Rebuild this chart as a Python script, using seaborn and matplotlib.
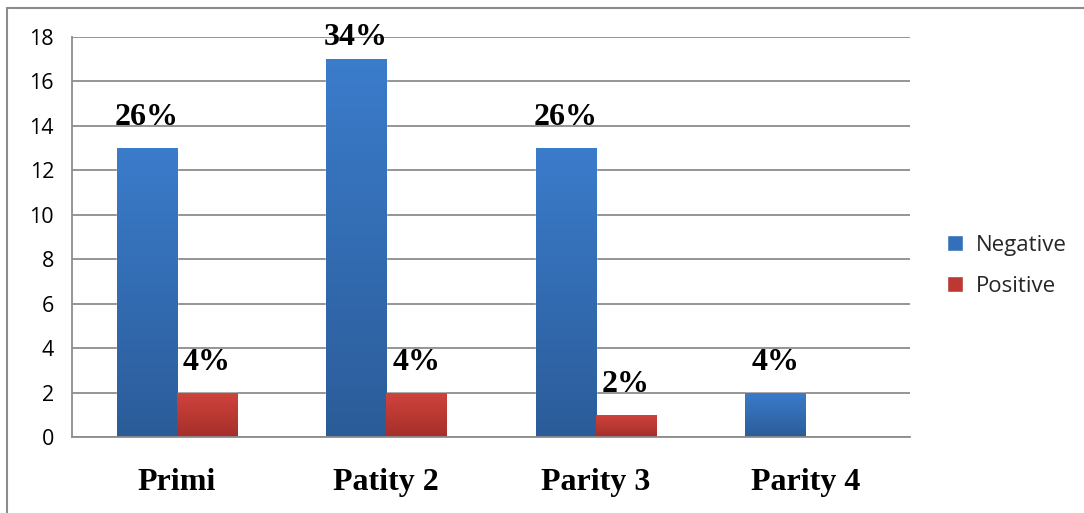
import numpy as np
import pandas as pd
import matplotlib
matplotlib.use("Agg")
import matplotlib.pyplot as plt
from matplotlib.lines import Line2D
from matplotlib.colors import LinearSegmentedColormap
import seaborn as sns

# Data
categories = ["Primi", "Patity 2", "Parity 3", "Parity 4"]
negative = [13, 17, 13, 2]
positive = [2, 2, 1, 0]
neg_labels = ["26%", "34%", "26%", "4%"]
pos_labels = ["4%", "4%", "2%", ""]
series = ["Negative", "Positive"]

df = pd.DataFrame({
    "category": categories * 2,
    "count": negative + positive,
    "result": [series[0]] * len(categories) + [series[1]] * len(categories),
    "label": neg_labels + pos_labels,
})

sns.set_theme(style="white")
plt.rcParams["font.family"] = ["DejaVu Sans"]

fig = plt.figure(figsize=(10.84, 5.13), dpi=100)
ax = fig.add_axes([0.0664, 0.1481, 0.7731, 0.7798])

palette = {"Negative": "#3470BA", "Positive": "#BE3833"}
sns.barplot(data=df, x="category", y="count", hue="result", order=categories,
            hue_order=series, palette=palette, width=0.574, saturation=1,
            ax=ax, legend=True)

ax.set_xlim(-0.5, 3.5)
ax.set_ylim(0, 18)
ax.set_yticks(range(0, 19, 2))
ax.yaxis.grid(True, color="#8C8C8C", linewidth=1.3)
ax.set_axisbelow(True)
for side in ["top", "right"]:
    ax.spines[side].set_visible(False)
for side in ["left", "bottom"]:
    ax.spines[side].set_color("#8C8C8C")
    ax.spines[side].set_linewidth(1.3)
ax.set_xlabel("")
ax.set_ylabel("")
ax.tick_params(axis="y", length=0, pad=13, labelsize=15.5, labelcolor="#000000")
ax.tick_params(axis="x", length=0, pad=22, labelcolor="#000000")
for t in ax.get_yticklabels():
    t.set_fontfamily("Open Sans")
for t in ax.get_xticklabels():
    t.set_fontfamily("Liberation Serif")
    t.set_fontweight("bold")
    t.set_fontsize(23)

# Vertical shading on the bars
gradients = {
    "Negative": LinearSegmentedColormap.from_list("neg", ["#2B5C99", "#3B7CCB"]),
    "Positive": LinearSegmentedColormap.from_list("pos", ["#A52E2A", "#D0443D"]),
}
grad = np.linspace(0, 1, 256).reshape(-1, 1)
for cont, name in zip(ax.containers, series):
    for bar in cont:
        h = bar.get_height()
        if h <= 0:
            bar.set_visible(False)
            continue
        x0 = bar.get_x()
        w = bar.get_width()
        im = ax.imshow(grad, cmap=gradients[name], aspect="auto", origin="lower",
                       extent=(x0, x0 + w, 0, h), zorder=bar.get_zorder() + 0.1)
        im.set_clip_path(bar)
    labels = df.loc[df["result"] == name, "label"].tolist()
    texts = ax.bar_label(cont, labels=labels, padding=11.5, fontsize=23,
                         fontfamily="Liberation Serif", fontweight="bold",
                         color="#000000")
    # Pull the label of a bar near the top of the axis closer so it stays in frame
    for bar, txt in zip(cont, texts):
        if bar.get_height() > 16:
            txt.xyann = (0, 5)
ax.set_xlim(-0.5, 3.5)
ax.set_ylim(0, 18)

leg = ax.legend(loc="center left", bbox_to_anchor=(1.02, 0.4275), frameon=False,
                prop={"family": "Open Sans", "size": 16}, handlelength=0.75,
                handleheight=0.75, handletextpad=0.55, labelspacing=0.9)

# Outer frame (top and left edges)
fig.add_artist(Line2D([7 / 1084, 1.0], [1 - 8 / 513, 1 - 8 / 513],
                      transform=fig.transFigure, color="#8C8C8C", linewidth=1.5))
fig.add_artist(Line2D([7 / 1084, 7 / 1084], [0.0, 1 - 8 / 513],
                      transform=fig.transFigure, color="#8C8C8C", linewidth=1.5))

fig.savefig("out.png", dpi=100, facecolor="white")
